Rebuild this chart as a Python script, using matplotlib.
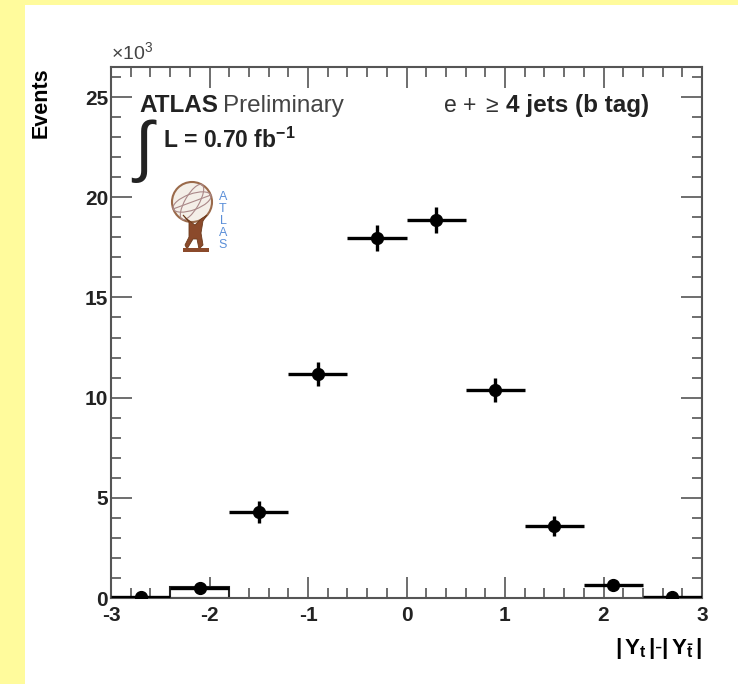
import matplotlib
matplotlib.use("Agg")
import matplotlib.pyplot as plt
from matplotlib.patches import Rectangle, Circle, Ellipse, Polygon
from matplotlib.ticker import MultipleLocator

plt.rcParams['font.family'] = ['Liberation Sans', 'DejaVu Sans']
plt.rcParams['mathtext.fontset'] = 'custom'
plt.rcParams['mathtext.rm'] = 'Liberation Sans'
plt.rcParams['mathtext.bf'] = 'Liberation Sans:bold'
plt.rcParams['mathtext.it'] = 'Liberation Sans:italic'
plt.rcParams['axes.unicode_minus'] = False

# data: |Y_t| - |Y_tbar|, events in units of 10^3
bin_centers = [-2.7, -2.1, -1.5, -0.9, -0.3, 0.3, 0.9, 1.5, 2.1, 2.7]
bin_half_width = 0.3
events = [0.05, 0.48, 4.3, 11.2, 17.95, 18.85, 10.4, 3.6, 0.65, 0.05]
events_err = [0.05, 0.15, 0.55, 0.6, 0.65, 0.65, 0.6, 0.5, 0.2, 0.05]

# outlined prediction box visible in the second bin
box_centers = [-2.1]
box_heights = [0.55]

W, H = 738, 684
fig = plt.figure(figsize=(W / 100, H / 100), dpi=100, facecolor='#fffb9c')
fig.patches.append(Rectangle((25 / W, 0), 1 - 25 / W, 1 - 5 / H, transform=fig.transFigure,
                             facecolor='white', edgecolor='none', zorder=-10))

ax = fig.add_axes([111 / W, 1 - 598 / H, (702 - 111) / W, (598 - 67) / H])
ax.set_facecolor('white')
ax.set_xlim(-3, 3)
ax.set_ylim(0, 26.5)

ax.bar(box_centers, box_heights, width=2 * bin_half_width, facecolor='white',
       edgecolor='#222222', linewidth=1.5, zorder=2)
ax.errorbar(bin_centers, events, xerr=bin_half_width, yerr=events_err, fmt='o',
            color='black', markersize=8.5, elinewidth=2.4, capsize=0, zorder=3)

ax.xaxis.set_major_locator(MultipleLocator(1))
ax.xaxis.set_minor_locator(MultipleLocator(0.2))
ax.yaxis.set_major_locator(MultipleLocator(5))
ax.yaxis.set_minor_locator(MultipleLocator(1))
ax.tick_params(which='both', direction='in', top=True, right=True, color='#555555', width=1.2)
ax.tick_params(which='major', length=15, labelsize=15, pad=2)
ax.tick_params(axis='x', which='major', pad=6)
ax.tick_params(which='minor', length=7)
for lab in ax.get_xticklabels() + ax.get_yticklabels():
    lab.set_fontweight('bold')
    lab.set_color('#222222')
for s in ax.spines.values():
    s.set_color('#555555')
    s.set_linewidth(1.5)

ax.set_ylabel('Events', fontsize=15.5, fontweight='bold', loc='top', labelpad=24)
ax.text(0.0, 1.008, r'$\times$10$^{3}$', transform=ax.transAxes, fontsize=14,
        color='#444444', ha='left', va='bottom')
ax.set_xlabel(r'$\mathbf{|\,Y_{t}\,|\text{-}|\,Y_{\bar{t}}\,|}$', fontsize=16, loc='right',
              labelpad=8)

# labels
ax.text(0.048, 0.915, 'ATLAS', transform=ax.transAxes, fontsize=17.5, fontweight='bold',
        color='#222222', va='baseline')
ax.text(0.190, 0.915, 'Preliminary', transform=ax.transAxes, fontsize=17.5,
        color='#444444', va='baseline')
ax.text(0.034, 0.807, r'$\int$', transform=ax.transAxes, fontsize=48, color='#222222',
        va='baseline')
ax.text(0.088, 0.847, r'L = 0.70 fb$^{\mathbf{-1}}$', transform=ax.transAxes, fontsize=16.5,
        fontweight='bold', color='#222222', va='baseline')
ax.text(0.561, 0.915, r'e + $\geq$', transform=ax.transAxes, fontsize=16.5,
        color='#333333', va='baseline')
ax.text(0.668, 0.915, '4 jets (b tag)', transform=ax.transAxes, fontsize=17.5,
        fontweight='bold', color='#222222', va='baseline')

# small ATLAS logo
lax = fig.add_axes([165 / W, 1 - 255 / H, 70 / W, 80 / H])
lax.set_xlim(0, 70)
lax.set_ylim(0, 80)
lax.axis('off')
lax.add_patch(Circle((27, 53), 20, facecolor='#f4efe8', edgecolor='#9a6a4a', lw=1.5))
lax.add_patch(Ellipse((27, 53), 40, 16, angle=20, fill=False, edgecolor='#a88', lw=0.8))
lax.add_patch(Ellipse((27, 53), 14, 40, angle=-30, fill=False, edgecolor='#a88', lw=0.8))
lax.plot([8, 46], [46, 60], color='#a88', lw=0.8)
lax.add_patch(Polygon([[18, 40], [24, 33], [24, 18], [20, 10], [22, 6], [28, 16], [32, 16],
                       [34, 6], [38, 10], [36, 22], [38, 34], [42, 40], [36, 36], [30, 30],
                       [22, 36]], closed=True, facecolor='#8b4a2b', edgecolor='#6b3a1b', lw=0.6))
lax.add_patch(Rectangle((18, 3), 26, 4, facecolor='#8b4a2b', edgecolor='none'))
for i, ch in enumerate('ATLAS'):
    lax.text(58, 58 - i * 12, ch, fontsize=9, color='#5b8fd8', ha='center', va='center')

plt.savefig('out.png', dpi=100, facecolor=fig.get_facecolor())
